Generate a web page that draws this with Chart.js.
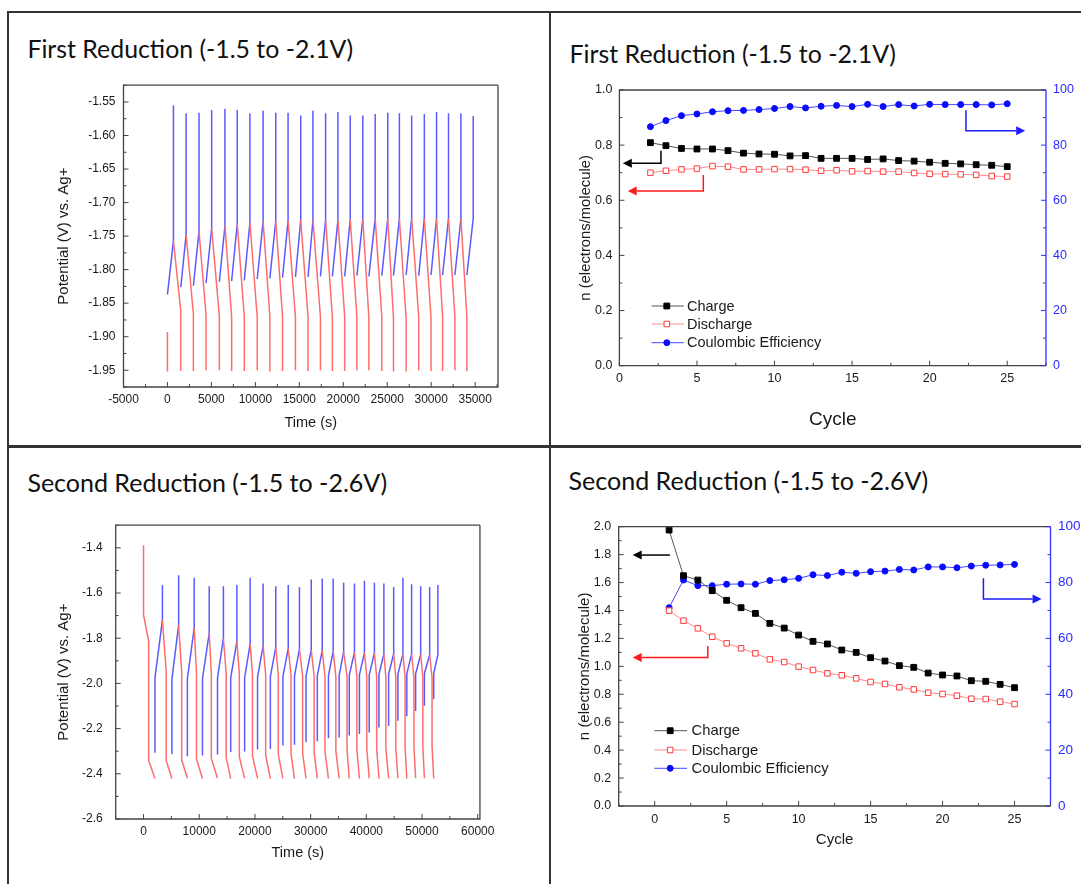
<!DOCTYPE html>
<html><head><meta charset="utf-8">
<script src="https://cdn.jsdelivr.net/npm/chart.js@4.4.1/dist/chart.umd.min.js"></script>
<style>
html,body{margin:0;padding:0;background:#fff;width:1081px;height:884px;overflow:hidden;position:relative}
canvas{position:absolute}
.title{position:absolute;font-family:Lato,'Open Sans',sans-serif;color:#111;white-space:nowrap}
.ln{position:absolute;background:#333}
</style></head><body>
<div class="ln" style="left:7px;top:11px;width:1074px;height:2px"></div>
<div class="ln" style="left:7px;top:11px;width:2px;height:873px"></div>
<div class="ln" style="left:549px;top:11px;width:2px;height:873px"></div>
<div class="ln" style="left:7px;top:445px;width:1074px;height:3px"></div>
<canvas id="c1" width="475" height="370" style="left:40px;top:70px"></canvas>
<canvas id="c2" width="521" height="365" style="left:560px;top:75px"></canvas>
<canvas id="c3" width="470" height="375" style="left:30px;top:505px"></canvas>
<canvas id="c4" width="521" height="370" style="left:560px;top:510px"></canvas>
<script>
// ================= DATA =================
// Panel 1: First reduction, potential vs time (one entry per charge/discharge cycle)
const p1XTicks = [-5000, 0, 5000, 10000, 15000, 20000, 25000, 30000, 35000];
const p1YTicks = [-1.95, -1.90, -1.85, -1.80, -1.75, -1.70, -1.65, -1.60, -1.55];
const p1ChargeStartT = [0, 1520, 2950, 4390, 5900, 7300, 8740, 10210, 11650, 13090, 14560, 15990, 17400, 18760, 20160, 21550, 22910, 24380, 25710, 27150, 28580, 29980, 31300, 32700, 34060];
const p1ChargeStartV = [-1.837, -1.826, -1.824, -1.820, -1.818, -1.817, -1.816, -1.814, -1.813, -1.812, -1.811, -1.811, -1.810, -1.810, -1.810, -1.809, -1.810, -1.809, -1.809, -1.808, -1.809, -1.808, -1.808, -1.808, -1.808];
const p1SpikeT = [680, 2120, 3590, 5030, 6540, 7940, 9380, 10880, 12320, 13720, 15160, 16550, 17990, 19390, 20790, 22220, 23630, 25060, 26380, 27780, 29220, 30610, 31970, 33380, 34780];
const p1KneeV = [-1.757, -1.748, -1.743, -1.738, -1.735, -1.732, -1.730, -1.728, -1.727, -1.727, -1.726, -1.726, -1.725, -1.726, -1.725, -1.725, -1.724, -1.724, -1.724, -1.723, -1.724, -1.724, -1.724, -1.724, -1.724];
const p1PeakV = [-1.555, -1.567, -1.566, -1.562, -1.560, -1.562, -1.567, -1.563, -1.566, -1.566, -1.570, -1.563, -1.567, -1.565, -1.570, -1.570, -1.568, -1.566, -1.567, -1.570, -1.568, -1.565, -1.567, -1.567, -1.571];
const p1DischargeKneeV = [-1.862, -1.866, -1.868, -1.869, -1.870, -1.870, -1.871, -1.870, -1.870, -1.871, -1.870, -1.870, -1.871, -1.870, -1.870, -1.871, -1.870, -1.872, -1.872, -1.870, -1.871, -1.870, -1.870, -1.870];
const p1DischargeEndV = [-1.951, -1.951, -1.950, -1.950, -1.951, -1.951, -1.950, -1.952, -1.951, -1.950, -1.951, -1.950, -1.951, -1.951, -1.950, -1.950, -1.951, -1.952, -1.952, -1.950, -1.951, -1.951, -1.950, -1.951];
const p1FirstDischargeT = [0, 0];
const p1FirstDischargeV = [-1.893, -1.952];

// Panel 3: Second reduction, potential vs time
const p3XTicks = [0, 10000, 20000, 30000, 40000, 50000, 60000];
const p3YTicks = [-2.6, -2.4, -2.2, -2.0, -1.8, -1.6, -1.4];
const p3ChargeStartT = [2050, 5090, 7870, 10580, 13280, 15650, 18150, 20470, 22770, 25020, 27100, 29170, 31200, 33200, 35120, 36940, 38760, 40520, 42270, 44000, 45670, 47270, 48850, 50430, 52100];
const p3ChargeStartV = [-2.307, -2.312, -2.322, -2.319, -2.315, -2.304, -2.301, -2.293, -2.290, -2.275, -2.271, -2.260, -2.256, -2.243, -2.239, -2.231, -2.224, -2.217, -2.195, -2.189, -2.165, -2.145, -2.122, -2.099, -2.070];
const p3ChargeStepV = [-1.975, -1.982, -1.980, -1.980, -1.978, -1.975, -1.975, -1.972, -1.970, -1.970, -1.968, -1.968, -1.966, -1.965, -1.965, -1.963, -1.962, -1.962, -1.960, -1.960, -1.960, -1.958, -1.958, -1.956, -1.955];
const p3SpikeT = [3390, 6300, 9090, 11790, 14340, 16760, 19140, 21470, 23740, 25980, 27990, 30110, 32080, 34050, 35930, 37870, 39660, 41450, 43150, 44910, 46570, 48130, 49760, 51370, 52850];
const p3TopV = [-1.719, -1.741, -1.756, -1.778, -1.800, -1.814, -1.826, -1.834, -1.841, -1.845, -1.848, -1.851, -1.854, -1.857, -1.860, -1.862, -1.864, -1.866, -1.868, -1.868, -1.870, -1.870, -1.872, -1.873, -1.873];
const p3PeakV = [-1.565, -1.521, -1.532, -1.570, -1.570, -1.565, -1.532, -1.558, -1.570, -1.565, -1.573, -1.540, -1.536, -1.536, -1.555, -1.558, -1.546, -1.555, -1.558, -1.573, -1.532, -1.561, -1.570, -1.573, -1.565];
const p3DischargeVertT = [4060, 6850, 9510, 12170, 14840, 17200, 19560, 21930, 24200, 26480, 28560, 30630, 32580, 34530, 36540, 38310, 40090, 41860, 43510, 45290, 46960, 48550, 50150, 51800];
const p3DischargeKneeHighV = [-1.946, -1.950, -1.952, -1.955, -1.958, -1.960, -1.962, -1.963, -1.965, -1.966, -1.967, -1.968, -1.969, -1.970, -1.970, -1.971, -1.972, -1.972, -1.973, -1.973, -1.974, -1.974, -1.975, -1.975];
const p3DischargeKneeLowV = [-2.341, -2.338, -2.335, -2.332, -2.328, -2.325, -2.322, -2.318, -2.315, -2.311, -2.308, -2.305, -2.302, -2.300, -2.297, -2.294, -2.291, -2.289, -2.287, -2.285, -2.283, -2.281, -2.280, -2.280];
const p3DischargeEndV = [-2.421, -2.420, -2.421, -2.420, -2.421, -2.420, -2.420, -2.421, -2.420, -2.421, -2.420, -2.420, -2.421, -2.420, -2.420, -2.421, -2.420, -2.421, -2.420, -2.420, -2.421, -2.420, -2.420, -2.421];
const p3FirstDischargeT = [0, 0, 920, 920, 2050];
const p3FirstDischargeV = [-1.389, -1.697, -1.814, -2.341, -2.421];

// Panel 2: First reduction, n and coulombic efficiency vs cycle
const p2XTicks = [0, 5, 10, 15, 20, 25];
const p2YTicks = [0, 0.2, 0.4, 0.6, 0.8, 1.0];
const p2Y2Ticks = [0, 20, 40, 60, 80, 100];
const p2Cycle = [2, 3, 4, 5, 6, 7, 8, 9, 10, 11, 12, 13, 14, 15, 16, 17, 18, 19, 20, 21, 22, 23, 24, 25];
const p2Charge = [0.809, 0.798, 0.788, 0.786, 0.786, 0.780, 0.771, 0.768, 0.767, 0.761, 0.762, 0.752, 0.752, 0.752, 0.748, 0.750, 0.744, 0.742, 0.738, 0.734, 0.732, 0.729, 0.727, 0.722];
const p2Discharge = [0.700, 0.707, 0.712, 0.715, 0.724, 0.722, 0.712, 0.712, 0.713, 0.713, 0.711, 0.707, 0.709, 0.705, 0.706, 0.704, 0.704, 0.699, 0.696, 0.695, 0.694, 0.692, 0.688, 0.686];
const p2CE = [86.7, 88.9, 90.7, 91.3, 92.1, 92.5, 92.6, 92.9, 93.3, 94.0, 93.5, 94.1, 94.4, 94.0, 94.8, 94.0, 94.7, 94.2, 94.8, 94.7, 94.7, 94.7, 94.6, 95.0];

// Panel 4: Second reduction, n and coulombic efficiency vs cycle
const p4XTicks = [0, 5, 10, 15, 20, 25];
const p4YTicks = [0, 0.2, 0.4, 0.6, 0.8, 1.0, 1.2, 1.4, 1.6, 1.8, 2.0];
const p4Y2Ticks = [0, 20, 40, 60, 80, 100];
const p4Cycle = [1, 2, 3, 4, 5, 6, 7, 8, 9, 10, 11, 12, 13, 14, 15, 16, 17, 18, 19, 20, 21, 22, 23, 24, 25];
const p4Charge = [1.976, 1.649, 1.618, 1.542, 1.473, 1.420, 1.379, 1.308, 1.274, 1.224, 1.179, 1.160, 1.117, 1.100, 1.062, 1.038, 1.005, 0.993, 0.952, 0.938, 0.931, 0.897, 0.893, 0.871, 0.847];
const p4Discharge = [1.399, 1.327, 1.272, 1.212, 1.165, 1.129, 1.093, 1.050, 1.031, 0.998, 0.974, 0.950, 0.936, 0.914, 0.888, 0.874, 0.850, 0.835, 0.811, 0.802, 0.790, 0.768, 0.766, 0.747, 0.730];
const p4CE = [71.0, 80.9, 78.9, 78.9, 79.4, 79.5, 79.4, 80.7, 81.0, 81.5, 82.8, 82.5, 83.7, 83.3, 83.9, 84.1, 84.7, 84.5, 85.6, 85.6, 85.3, 85.9, 86.2, 86.3, 86.5];

// Arrow annotations (data coordinates: [cycle, value])
const p2ArrowCharge = [[2.68, 0.78], [2.68, 0.734], [0.22, 0.734]];
const p2ArrowDischarge = [[5.41, 0.692], [5.41, 0.634], [0.54, 0.634]];
const p2ArrowCE = [[22.34, 92.7], [22.34, 85.2], [26.16, 85.2]];
const p4ArrowCharge = [[1.06, 1.797], [-1.53, 1.797]];
const p4ArrowDischarge = [[3.69, 1.145], [3.69, 1.064], [-1.53, 1.064]];
const p4ArrowCE = [[22.84, 81.5], [22.84, 74.1], [26.88, 74.1]];

const titleTexts = ['First Reduction (-1.5 to -2.1V)', 'First Reduction (-1.5 to -2.1V)', 'Second Reduction (-1.5 to -2.6V)', 'Second Reduction (-1.5 to -2.6V)'];
const seriesNames = ['Charge', 'Discharge', 'Coulombic Efficiency'];

// ================= BUILD =================
const FONT = "'Liberation Sans', Arial, Helvetica, sans-serif";
const BLUE_T = '#5a5aff', RED_T = '#ff6c6c';

function pts(xs, ys) { return xs.map((x, i) => ({x: x, y: ys[i]})); }

// panel 1 segments
const p1Blue = [];
for (let k = 0; k < p1SpikeT.length; k++) {
  p1Blue.push({x: p1ChargeStartT[k], y: p1ChargeStartV[k]}, {x: p1SpikeT[k], y: p1KneeV[k]},
              {x: p1SpikeT[k], y: p1PeakV[k]}, {x: p1SpikeT[k], y: null});
}
const p1Red = pts(p1FirstDischargeT, p1FirstDischargeV);
p1Red.push({x: 0, y: null});
for (let k = 1; k < p1ChargeStartT.length; k++) {
  p1Red.push({x: p1SpikeT[k - 1], y: p1KneeV[k - 1]}, {x: p1ChargeStartT[k], y: p1DischargeKneeV[k - 1]},
             {x: p1ChargeStartT[k], y: p1DischargeEndV[k - 1]}, {x: p1ChargeStartT[k], y: null});
}
// panel 3 segments
const p3Blue = [];
for (let k = 0; k < p3SpikeT.length; k++) {
  p3Blue.push({x: p3ChargeStartT[k], y: p3ChargeStartV[k]}, {x: p3ChargeStartT[k], y: p3ChargeStepV[k]},
              {x: p3SpikeT[k], y: p3TopV[k]}, {x: p3SpikeT[k], y: p3PeakV[k]}, {x: p3SpikeT[k], y: null});
}
const p3Red = pts(p3FirstDischargeT, p3FirstDischargeV);
p3Red.push({x: 2050, y: null});
for (let k = 1; k < p3ChargeStartT.length; k++) {
  p3Red.push({x: p3SpikeT[k - 1], y: p3TopV[k - 1]}, {x: p3DischargeVertT[k - 1], y: p3DischargeKneeHighV[k - 1]},
             {x: p3DischargeVertT[k - 1], y: p3DischargeKneeLowV[k - 1]}, {x: p3ChargeStartT[k], y: p3DischargeEndV[k - 1]},
             {x: p3ChargeStartT[k], y: null});
}

function axis(o) {
  return {
    type: 'linear', position: o.position, min: o.min, max: o.max,
    afterBuildTicks: s => { s.ticks = o.ticks.map(v => ({value: v})); },
    afterFit: s => { if (o.width != null) s.width = o.width; if (o.height != null) s.height = o.height; },
    grid: {display: false, drawTicks: false, drawOnChartArea: false},
    border: {display: false},
    ticks: {autoSkip: false, maxRotation: 0, minRotation: 0, padding: o.pad, color: o.color || '#1a1a1a',
            font: {family: FONT, size: o.fs || 12}, callback: o.fmt},
    title: o.title ? {display: true, text: o.title, color: '#1a1a1a', font: {family: FONT, size: o.tfs}, padding: o.tpad} : {display: false}
  };
}

function drawMarker(ctx, style, x, y, r, fill, stroke) {
  ctx.save();
  ctx.fillStyle = fill; ctx.strokeStyle = stroke; ctx.lineWidth = 1;
  ctx.beginPath();
  if (style === 'rect') { const s = r * Math.SQRT1_2; ctx.rect(x - s, y - s, 2 * s, 2 * s); }
  else ctx.arc(x, y, r, 0, Math.PI * 2);
  ctx.fill(); ctx.stroke();
  ctx.restore();
}

function deco(cfg) {
  return {
    id: 'deco',
    afterDraw(chart) {
      const ctx = chart.ctx, a = chart.chartArea;
      ctx.save();
      ctx.lineWidth = 1.3;
      ctx.strokeStyle = '#444';
      ctx.beginPath();
      ctx.moveTo(a.right, a.top); ctx.lineTo(a.left, a.top); ctx.lineTo(a.left, a.bottom); ctx.lineTo(a.right, a.bottom);
      if (!cfg.right) ctx.lineTo(a.right, a.top);
      ctx.stroke();
      if (cfg.right) {
        ctx.strokeStyle = cfg.right; ctx.beginPath(); ctx.moveTo(a.right, a.top); ctx.lineTo(a.right, a.bottom); ctx.stroke();
      }
      // inward ticks (major + minor halfway)
      cfg.ticks.forEach(t => {
        const s = chart.scales[t.axis];
        const v = t.values, step = v[1] - v[0];
        const list = v.map(x => [x, 5]);
        for (let i = -1; i < v.length; i++) list.push([v[0] + (i + 0.5) * step, 3]);
        ctx.strokeStyle = t.color; ctx.lineWidth = 1;
        list.forEach(([val, len]) => {
          if (val < s.min - 1e-9 || val > s.max + 1e-9) return;
          const p = s.getPixelForValue(val);
          ctx.beginPath();
          if (t.side === 'bottom') { ctx.moveTo(p, a.bottom); ctx.lineTo(p, a.bottom - len); }
          else if (t.side === 'left') { ctx.moveTo(a.left, p); ctx.lineTo(a.left + len, p); }
          else { ctx.moveTo(a.right, p); ctx.lineTo(a.right - len, p); }
          ctx.stroke();
        });
      });
      // arrows
      (cfg.arrows || []).forEach(ar => {
        const xs = chart.scales.x, ys = chart.scales[ar.axis];
        const p = ar.pts.map(q => [xs.getPixelForValue(q[0]), ys.getPixelForValue(q[1])]);
        const n = p.length, tip = p[n - 1], prev = p[n - 2];
        const dx = tip[0] - prev[0], dy = tip[1] - prev[1], L = Math.hypot(dx, dy), ux = dx / L, uy = dy / L;
        const hl = 9, hw = 4.5;
        ctx.strokeStyle = ar.color; ctx.fillStyle = ar.color; ctx.lineWidth = 1.5;
        ctx.beginPath(); ctx.moveTo(p[0][0], p[0][1]);
        for (let i = 1; i < n - 1; i++) ctx.lineTo(p[i][0], p[i][1]);
        ctx.lineTo(tip[0] - ux * hl, tip[1] - uy * hl);
        ctx.stroke();
        ctx.beginPath();
        ctx.moveTo(tip[0], tip[1]);
        ctx.lineTo(tip[0] - ux * hl - uy * hw, tip[1] - uy * hl + ux * hw);
        ctx.lineTo(tip[0] - ux * hl + uy * hw, tip[1] - uy * hl - ux * hw);
        ctx.closePath(); ctx.fill();
      });
      // legend
      if (cfg.legend) {
        const lg = cfg.legend;
        chart.data.datasets.forEach((ds, i) => {
          const y = lg.rows[i];
          ctx.strokeStyle = ds.borderColor; ctx.lineWidth = 1;
          ctx.beginPath(); ctx.moveTo(lg.x0, y); ctx.lineTo(lg.x1, y); ctx.stroke();
          drawMarker(ctx, ds.pointStyle, lg.xm, y, ds.pointRadius, ds.pointBackgroundColor, ds.pointBorderColor);
          ctx.fillStyle = '#1a1a1a'; ctx.font = lg.fs + 'px ' + FONT; ctx.textBaseline = 'middle'; ctx.textAlign = 'left';
          ctx.fillText(ds.label, lg.xt, y + 0.5);
        });
      }
      ctx.restore();
    }
  };
}

const fmt0 = v => String(v);
const fmt1 = v => v.toFixed(1);
const fmt2 = v => v.toFixed(2);

// ---- Chart 1 ----
new Chart(document.getElementById('c1'), {
  type: 'line',
  data: {datasets: [
    {data: p1Red, borderColor: RED_T, borderWidth: 1.5, pointRadius: 0, spanGaps: false, tension: 0},
    {data: p1Blue, borderColor: BLUE_T, borderWidth: 1.5, pointRadius: 0, spanGaps: false, tension: 0}
  ]},
  options: {
    responsive: false, animation: false, devicePixelRatio: 1,
    layout: {padding: {top: 15, right: 17, left: 0, bottom: 0}},
    plugins: {legend: {display: false}, tooltip: {enabled: false}},
    scales: {
      x: axis({position: 'bottom', min: -5000, max: 37600, ticks: p1XTicks, height: 53, pad: 5, fmt: fmt0, title: 'Time (s)', tfs: 14.5, tpad: {top: 0, bottom: 8.6}}),
      y: axis({position: 'left', min: -1.975, max: -1.525, ticks: p1YTicks, width: 83.5, pad: 8, fmt: fmt2, title: 'Potential (V) vs. Ag+', tfs: 15, tpad: {top: 15, bottom: 0}})
    }
  },
  plugins: [deco({ticks: [{axis: 'x', side: 'bottom', values: p1XTicks, color: '#444'}, {axis: 'y', side: 'left', values: p1YTicks, color: '#444'}]})]
});

// ---- Chart 3 ----
new Chart(document.getElementById('c3'), {
  type: 'line',
  data: {datasets: [
    {data: p3Red, borderColor: RED_T, borderWidth: 1.5, pointRadius: 0, spanGaps: false, tension: 0},
    {data: p3Blue, borderColor: BLUE_T, borderWidth: 1.5, pointRadius: 0, spanGaps: false, tension: 0}
  ]},
  options: {
    responsive: false, animation: false, devicePixelRatio: 1,
    layout: {padding: {top: 19, right: 16.7, left: 0, bottom: 0}},
    plugins: {legend: {display: false}, tooltip: {enabled: false}},
    scales: {
      x: axis({position: 'bottom', min: -5000, max: 60400, ticks: p3XTicks, height: 61, pad: 5.5, fmt: fmt0, title: 'Time (s)', tfs: 14.5, tpad: {top: 0, bottom: 18.3}}),
      y: axis({position: 'left', min: -2.6, max: -1.3, ticks: p3YTicks, width: 85.7, pad: 13, fmt: fmt1, title: 'Potential (V) vs. Ag+', tfs: 15, tpad: {top: 25, bottom: 0}})
    }
  },
  plugins: [deco({ticks: [{axis: 'x', side: 'bottom', values: p3XTicks, color: '#444'}, {axis: 'y', side: 'left', values: p3YTicks, color: '#444'}]})]
});

function cycleDatasets(cyc, ch, dis, ce) {
  return [
    {label: seriesNames[0], data: pts(cyc, ch), yAxisID: 'y', borderColor: '#555', borderWidth: 1, pointStyle: 'rect', pointRadius: 4.1,
     pointBackgroundColor: '#000', pointBorderColor: '#000', pointBorderWidth: 1, tension: 0},
    {label: seriesNames[1], data: pts(cyc, dis), yAxisID: 'y', borderColor: '#ff8a8a', borderWidth: 1, pointStyle: 'rect', pointRadius: 3.9,
     pointBackgroundColor: '#fff', pointBorderColor: '#ff3b3b', pointBorderWidth: 1, tension: 0},
    {label: seriesNames[2], data: pts(cyc, ce), yAxisID: 'y2', borderColor: '#4646ff', borderWidth: 1, pointStyle: 'circle', pointRadius: 3,
     pointBackgroundColor: '#0a0aff', pointBorderColor: '#0a0aff', pointBorderWidth: 1, tension: 0}
  ];
}

// ---- Chart 2 ----
new Chart(document.getElementById('c2'), {
  type: 'line',
  data: {datasets: cycleDatasets(p2Cycle, p2Charge, p2Discharge, p2CE)},
  options: {
    responsive: false, animation: false, devicePixelRatio: 1,
    layout: {padding: {top: 15, right: 0, left: 0, bottom: 0}},
    plugins: {legend: {display: false}, tooltip: {enabled: false}},
    scales: {
      x: axis({position: 'bottom', min: 0, max: 27.5, ticks: p2XTicks, height: 74.3, pad: 5.6, fs: 12.5, fmt: fmt0, title: 'Cycle', tfs: 19, tpad: {top: 0, bottom: 9.3}}),
      y: axis({position: 'left', min: 0, max: 1, ticks: p2YTicks, width: 59.4, pad: 7, fs: 12.5, fmt: fmt1, title: 'n (electrons/molecule)', tfs: 14.8, tpad: {top: 16.6, bottom: 0}}),
      y2: axis({position: 'right', min: 0, max: 100, ticks: p2Y2Ticks, width: 35, pad: 7, fs: 12.5, color: '#2a2aff', fmt: fmt0})
    }
  },
  plugins: [deco({right: '#3030ff',
    ticks: [{axis: 'x', side: 'bottom', values: p2XTicks, color: '#444'}, {axis: 'y', side: 'left', values: p2YTicks, color: '#444'}, {axis: 'y2', side: 'right', values: p2Y2Ticks, color: '#3030ff'}],
    arrows: [{pts: p2ArrowCharge, axis: 'y', color: '#000'}, {pts: p2ArrowDischarge, axis: 'y', color: '#ff1a1a'}, {pts: p2ArrowCE, axis: 'y2', color: '#1a1aff'}],
    legend: {x0: 91.6, x1: 123.8, xm: 106.8, xt: 127, rows: [231, 249, 267.7], fs: 14.5}})]
});

// ---- Chart 4 ----
new Chart(document.getElementById('c4'), {
  type: 'line',
  data: {datasets: cycleDatasets(p4Cycle, p4Charge, p4Discharge, p4CE)},
  options: {
    responsive: false, animation: false, devicePixelRatio: 1,
    layout: {padding: {top: 16.7, right: 0, left: 0, bottom: 0}},
    plugins: {legend: {display: false}, tooltip: {enabled: false}},
    scales: {
      x: axis({position: 'bottom', min: -2.5, max: 27.5, ticks: p4XTicks, height: 74, pad: 5.6, fs: 12.5, fmt: fmt0, title: 'Cycle', tfs: 15, tpad: {top: 0, bottom: 31}}),
      y: axis({position: 'left', min: 0, max: 2, ticks: p4YTicks, width: 58.7, pad: 7.5, fs: 12.5, fmt: fmt1, title: 'n (electrons/molecule)', tfs: 15, tpad: {top: 15.4, bottom: 0}}),
      y2: axis({position: 'right', min: 0, max: 100, ticks: p4Y2Ticks, width: 30.5, pad: 7.5, fs: 13.5, color: '#2a2aff', fmt: fmt0})
    }
  },
  plugins: [deco({right: '#3030ff',
    ticks: [{axis: 'x', side: 'bottom', values: p4XTicks, color: '#444'}, {axis: 'y', side: 'left', values: p4YTicks, color: '#444'}, {axis: 'y2', side: 'right', values: p4Y2Ticks, color: '#3030ff'}],
    arrows: [{pts: p4ArrowCharge, axis: 'y', color: '#000'}, {pts: p4ArrowDischarge, axis: 'y', color: '#ff1a1a'}, {pts: p4ArrowCE, axis: 'y2', color: '#1a1aff'}],
    legend: {x0: 94.3, x1: 127, xm: 110.2, xt: 131.5, rows: [220.7, 240, 258.3], fs: 14.8}})]
});

// ---- Panel titles (real DOM text, fitted to reference width) ----
const titlePos = [{x: 27.4, base: 58.3, w: 326}, {x: 569.6, base: 63.3, w: 326.4}, {x: 27.4, base: 491.7, w: 360}, {x: 568.6, base: 490, w: 360}];
const mctx = document.createElement('canvas').getContext('2d');
titleTexts.forEach((txt, i) => {
  const tp = titlePos[i];
  mctx.font = '100px Lato';
  const size = 100 * tp.w / mctx.measureText(txt).width;
  mctx.font = size + 'px Lato';
  const m = mctx.measureText(txt);
  const asc = m.fontBoundingBoxAscent, desc = m.fontBoundingBoxDescent;
  const d = document.createElement('div');
  d.className = 'title'; d.textContent = txt;
  d.style.fontSize = size + 'px'; d.style.lineHeight = (asc + desc) + 'px';
  d.style.left = tp.x + 'px'; d.style.top = (tp.base - asc) + 'px';
  document.body.appendChild(d);
});
</script>
</body></html>
